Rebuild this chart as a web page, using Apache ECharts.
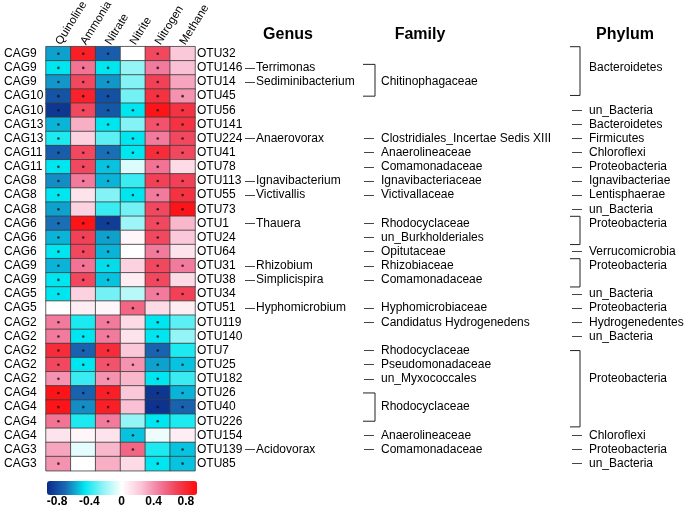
<!DOCTYPE html>
<html><head><meta charset="utf-8">
<script src="https://cdn.jsdelivr.net/npm/echarts@6/dist/echarts.min.js"></script>
<style>html,body{margin:0;padding:0;background:#fff}#c{width:685px;height:513px}</style>
</head><body><div id="c"></div>
<script>
const factors = ['Quinoline','Ammonia','Nitrate','Nitrite','Nitrogen','Methane'];
const cags = ['CAG9','CAG9','CAG9','CAG10','CAG10','CAG13','CAG13','CAG11','CAG11','CAG8','CAG8','CAG8','CAG6','CAG6','CAG6','CAG9','CAG9','CAG5','CAG5','CAG2','CAG2','CAG2','CAG2','CAG2','CAG4','CAG4','CAG4','CAG4','CAG3','CAG3'];
const otus = ['OTU32','OTU146','OTU14','OTU45','OTU56','OTU141','OTU224','OTU41','OTU78','OTU113','OTU55','OTU73','OTU1','OTU24','OTU64','OTU31','OTU38','OTU34','OTU51','OTU119','OTU140','OTU7','OTU25','OTU182','OTU26','OTU40','OTU226','OTU154','OTU139','OTU85'];

const quinoline = [-0.64,-0.5,-0.66,-0.84,-0.95,-0.6,-0.45,-0.8,-0.5,-0.68,-0.5,-0.64,-0.74,-0.6,-0.5,-0.6,-0.5,-0.5,0,0.5,0.5,0.83,0.7,0.42,0.95,0.95,0.53,0.12,0.36,0.42];
const ammonia   = [0.9,0.53,0.7,0.88,0.7,0.33,0.2,0.7,0.7,0.5,0.12,0.2,0.95,0.73,0.7,0.53,0.7,0.2,0.08,-0.45,-0.5,-0.78,-0.5,-0.4,-0.78,-0.68,-0.45,0.04,-0.06,0];
const nitrate   = [-0.8,-0.5,-0.66,-0.85,-0.82,-0.5,-0.34,-0.74,-0.57,-0.6,-0.27,-0.4,-0.92,-0.64,-0.6,-0.52,-0.57,-0.3,0.04,0.5,0.5,0.83,0.66,0.42,0.9,0.9,0.5,0.12,0.3,0.33];
const nitrite   = [0,-0.24,-0.27,-0.3,-0.5,-0.27,-0.5,-0.5,-0.08,-0.4,-0.5,-0.3,-0.22,0.04,0,0.2,0.08,-0.16,0.58,0.16,0.12,0.24,0.42,0.3,0.24,0.27,-0.24,-0.57,0.58,0.16];
const nitrogen  = [0.7,0.5,0.73,0.8,0.95,0.66,0.5,0.83,0.53,0.73,0.5,0.7,0.7,0.7,0.5,0.7,0.7,0.5,0.16,-0.5,-0.5,-0.78,-0.64,-0.5,-0.95,-0.97,-0.5,-0.04,-0.45,-0.5];
const methane   = [0.24,0.27,0.36,0.42,0.8,0.8,0.7,0.7,0.16,0.73,0.8,0.95,0.3,0.24,0.12,0.5,0.16,0.73,0.08,-0.34,-0.24,-0.45,-0.57,-0.4,-0.6,-0.78,-0.45,0.08,-0.57,-0.57];

const quinolineSig = [1,1,1,1,1,1,1,1,1,1,1,1,1,1,1,1,1,1,0,1,1,1,1,1,1,1,1,0,0,1];
const ammoniaSig   = [1,1,1,1,1,0,0,1,1,1,0,0,1,1,1,1,1,0,0,0,1,1,1,0,1,1,0,0,0,0];
const nitrateSig   = [1,1,1,1,1,1,0,1,1,1,0,0,1,1,1,1,1,0,0,1,1,1,1,1,1,1,1,0,0,0];
const nitriteSig   = [0,0,0,0,1,0,1,1,0,0,1,0,0,0,0,0,0,0,1,0,0,0,1,0,0,0,0,1,1,0];
const nitrogenSig  = [1,1,1,1,1,1,1,1,1,1,1,1,1,1,1,1,1,1,0,1,1,1,1,1,1,1,1,0,0,1];
const methaneSig   = [0,0,0,1,1,1,1,1,0,1,1,1,0,0,0,1,0,1,0,0,0,0,1,0,1,1,0,0,1,1];

const genus = ['','Terrimonas','Sediminibacterium','','','','Anaerovorax','','','Ignavibacterium','Victivallis','','Thauera','','','Rhizobium','Simplicispira','','Hyphomicrobium','','','','','','','','','','Acidovorax',''];
const family = ['','','Chitinophagaceae','','','','Clostridiales_Incertae Sedis XIII','Anaerolineaceae','Comamonadaceae','Ignavibacteriaceae','Victivallaceae','','Rhodocyclaceae','un_Burkholderiales','Opitutaceae','Rhizobiaceae','Comamonadaceae','','Hyphomicrobiaceae','Candidatus Hydrogenedens','','Rhodocyclaceae','Pseudomonadaceae','un_Myxococcales','','Rhodocyclaceae','','Anaerolineaceae','Comamonadaceae',''];
const phylum = ['','Bacteroidetes','','','un_Bacteria','Bacteroidetes','Firmicutes','Chloroflexi','Proteobacteria','Ignavibacteriae','Lentisphaerae','un_Bacteria','Proteobacteria','','Verrucomicrobia','Proteobacteria','','un_Bacteria','Proteobacteria','Hydrogenedentes','un_Bacteria','','','Proteobacteria','','','','Chloroflexi','Proteobacteria','un_Bacteria'];
// bracket spans in row units (0 = first row centre)
const familyBrackets = [[0.75,3],[24,26]];
const phylumBrackets = [[-0.5,2.95],[11.5,13.5],[14.5,16.5],[21,26.4]];
const headers = ['Genus','Family','Phylum'];
const colorbarTicks = [-0.8,-0.4,0,0.4,0.8];

const valueCols = [quinoline, ammonia, nitrate, nitrite, nitrogen, methane];
const sigCols = [quinolineSig, ammoniaSig, nitrateSig, nitriteSig, nitrogenSig, methaneSig];

const heatData = [];
const dotData = [];
valueCols.forEach((col, c) => col.forEach((v, r) => {
  heatData.push([c, r, v]);
  if (sigCols[c][r]) dotData.push([c, r]);
}));

const FONT = "'Liberation Sans', Arial, sans-serif";
const inBracket = (i, br) => br.some(b => i >= b[0] && i <= b[1]);

function annoAxis(offset, arr, brackets, dashW) {
  return {
    type: 'category', gridIndex: 0, position: 'right', offset: offset, inverse: true,
    data: otus,
    axisLine: {show: false}, axisTick: {show: false}, splitLine: {show: false},
    axisLabel: {
      interval: 0, margin: 0, color: '#000', fontFamily: FONT, fontSize: 12,
      formatter: (v, i) => {
        const t = arr[i];
        if (!t) return '';
        return (brackets && inBracket(i, brackets)) ? '{s| }{t|' + t + '}' : '{d|—}{t|' + t + '}';
      },
      rich: {
        d: {width: dashW, fontSize: 10, color: '#000', fontFamily: FONT},
        s: {width: dashW, fontSize: 10},
        t: {fontSize: 12, color: '#000', fontFamily: FONT}
      }
    }
  };
}

function bracketSeries(data, vx, stub) {
  return {
    type: 'custom', xAxisIndex: 1, yAxisIndex: 5, silent: true, clip: false,
    data: data,
    encode: {x: -1, y: [0, 1]},
    renderItem: (params, api) => {
      const h = api.size([0, 1])[1];
      const c0 = api.coord([vx, 0])[1];
      const y0 = c0 + api.value(0) * h;
      const y1 = c0 + api.value(1) * h;
      const xv = api.coord([vx, 0])[0];
      const xs = api.coord([vx - stub, 0])[0];
      return {type: 'polyline', shape: {points: [[xs, y0], [xv, y0], [xv, y1], [xs, y1]]},
              style: {stroke: '#222', lineWidth: 1, fill: null}};
    }
  };
}

const chart = echarts.init(document.getElementById('c'));
chart.setOption({
  backgroundColor: '#fff',
  animation: false,
  textStyle: {fontFamily: FONT},
  grid: [
    {left: 46, top: 46.7, width: 149, height: 424, containLabel: false, outerBoundsMode: 'none'},
    {left: 195, top: 46.7, width: 490, height: 424, containLabel: false, outerBoundsMode: 'none'},
    {left: 41, top: 481, width: 161, height: 14, containLabel: false, outerBoundsMode: 'none'}
  ],
  xAxis: [
    {type: 'category', gridIndex: 0, position: 'top', data: factors,
     axisLine: {show: false}, axisTick: {show: false}, splitLine: {show: false},
     axisLabel: {interval: 0, rotate: -58, margin: 3, color: '#000', fontSize: 11.5, fontFamily: FONT}},
    {type: 'value', gridIndex: 1, min: 0, max: 490, show: false},
    {type: 'value', gridIndex: 2, min: -1, max: 1,
     axisLine: {show: false}, axisTick: {show: false}, splitLine: {show: false},
     axisLabel: {customValues: colorbarTicks, margin: 1, color: '#000', fontSize: 12, fontWeight: 'bold', fontFamily: FONT}}
  ],
  yAxis: [
    {type: 'category', gridIndex: 0, position: 'left', inverse: true, data: otus,
     axisLine: {show: false}, axisTick: {show: false}, splitLine: {show: false},
     axisLabel: {interval: 0, margin: 42, align: 'left', color: '#000', fontSize: 12, fontFamily: FONT, formatter: (v, i) => cags[i]}},
    {type: 'category', gridIndex: 0, position: 'right', offset: 0, inverse: true, data: otus,
     axisLine: {show: false}, axisTick: {show: false}, splitLine: {show: false},
     axisLabel: {interval: 0, margin: 2, color: '#000', fontSize: 12, fontFamily: FONT}},
    annoAxis(50, genus, null, 11),
    annoAxis(169, family, familyBrackets, 17),
    annoAxis(377, phylum, phylumBrackets, 17),
    {type: 'category', gridIndex: 1, inverse: true, data: otus, show: false},
    {type: 'value', gridIndex: 2, show: false}
  ],
  visualMap: {
    type: 'continuous', seriesIndex: 0, dimension: 2, min: -1, max: 1,
    orient: 'horizontal', left: 47, top: 481, itemWidth: 14, itemHeight: 150,
    padding: 0, calculable: false, hoverLink: false, show: true,
    inRange: {color: ['#0b2a8a','#1a6ab4','#00e6f0','#90f4f6','#ffffff','#fbc6d8','#f27a9c','#f23c50','#ff0a0a']}
  },
  graphic: headers.map((h, i) => ({
    type: 'text', x: [288, 420, 625][i], y: 35, silent: true,
    style: {text: h, fill: '#000', font: 'bold 16px ' + FONT, textAlign: 'center', textVerticalAlign: 'middle'}
  })),
  series: [
    {type: 'heatmap', xAxisIndex: 0, yAxisIndex: 0, data: heatData,
     itemStyle: {borderColor: '#3c3c3c', borderWidth: 0.8},
     emphasis: {disabled: true}},
    {type: 'scatter', xAxisIndex: 0, yAxisIndex: 0, data: dotData, symbol: 'circle', symbolSize: 2.6,
     itemStyle: {color: '#111'}, silent: true, z: 5},
    bracketSeries(familyBrackets, 180, 12),
    bracketSeries(phylumBrackets, 385, 10)
  ]
});
</script>
</body></html>
